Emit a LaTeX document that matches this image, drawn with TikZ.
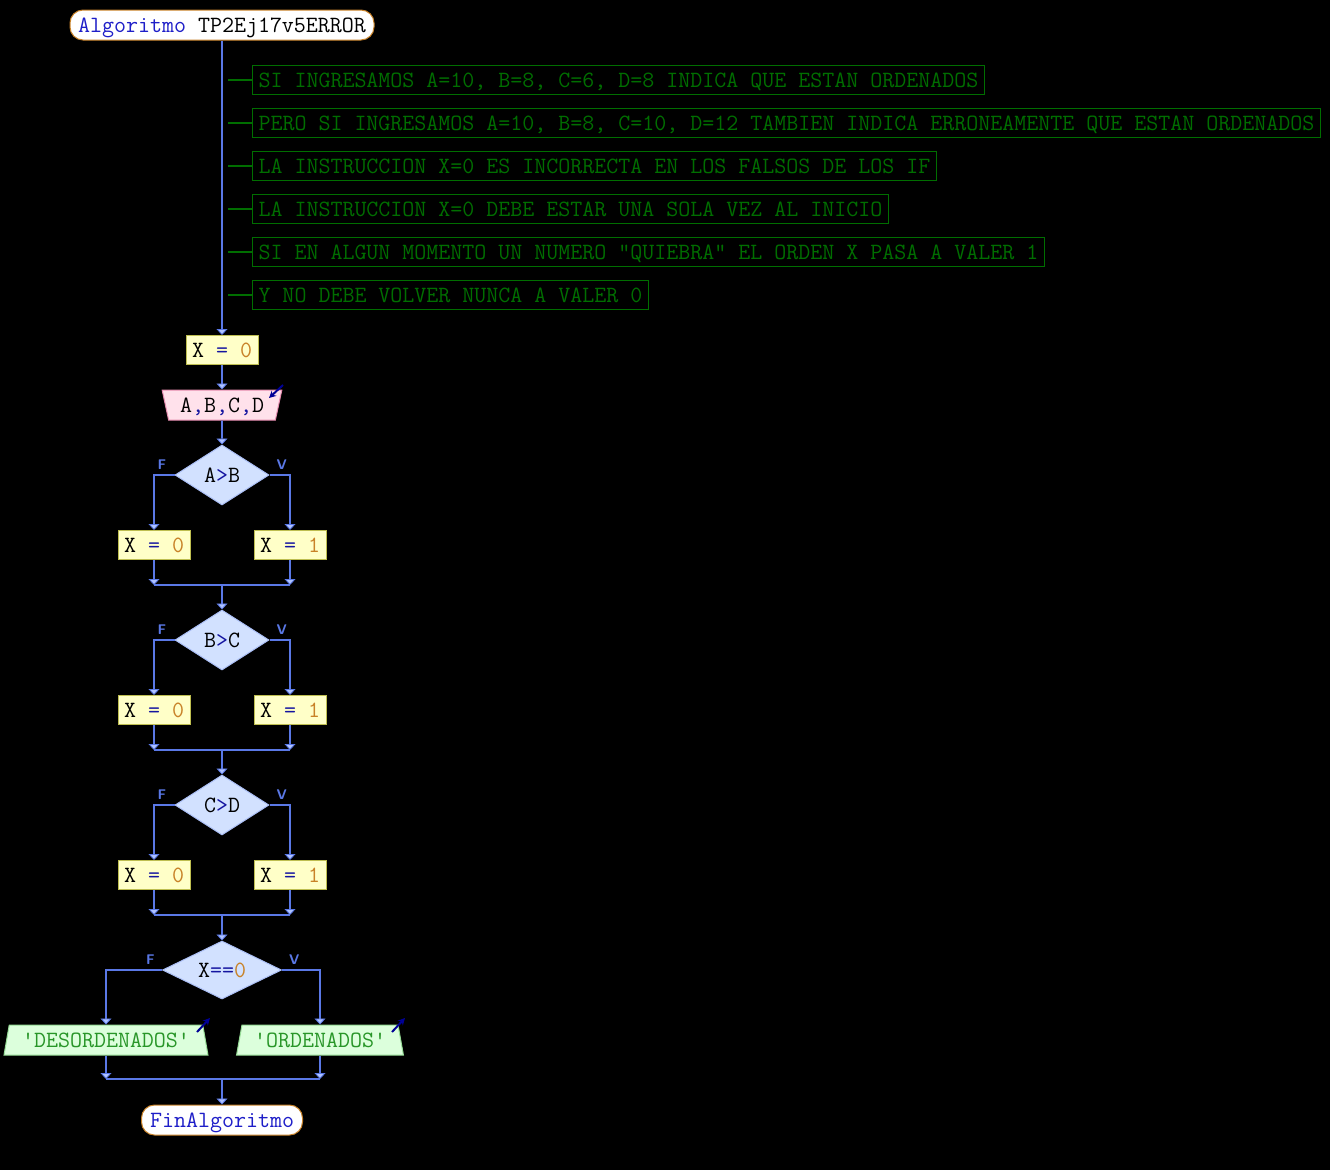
\documentclass[tikz,border=0pt]{standalone}
\usepackage{fontspec}
\usepackage{xcolor}
\usetikzlibrary{shapes.geometric, arrows.meta, positioning, calc}

\definecolor{flowblue}{RGB}{90,120,230}
\definecolor{arrowfill}{RGB}{175,195,255}
\definecolor{cmtgreen}{RGB}{0,110,0}
\definecolor{strgreen}{RGB}{40,150,40}
\definecolor{kwblue}{RGB}{30,30,200}
\definecolor{opblue}{RGB}{20,20,160}
\definecolor{numorange}{RGB}{200,130,40}
\definecolor{procfill}{RGB}{255,255,200}
\definecolor{procdraw}{RGB}{190,190,80}
\definecolor{readfill}{RGB}{255,225,235}
\definecolor{readdraw}{RGB}{230,140,175}
\definecolor{writefill}{RGB}{220,255,220}
\definecolor{writedraw}{RGB}{150,220,150}
\definecolor{decfill}{RGB}{210,225,255}
\definecolor{decdraw}{RGB}{170,190,245}
\definecolor{termdraw}{RGB}{200,130,40}
\definecolor{ioblue}{RGB}{0,0,150}

\newcommand{\pskw}[1]{\textcolor{kwblue}{#1}}
\newcommand{\psop}[1]{\textcolor{opblue}{#1}}
\newcommand{\psnum}[1]{\textcolor{numorange}{#1}}

\begin{document}
\begin{tikzpicture}[x=1pt, y=-1pt, font=\ttfamily\fontsize{23.3}{24}\selectfont,
  base/.style={inner sep=0pt, text height=14pt, text depth=0pt},
  term/.style={base, draw=termdraw, fill=white, rounded corners=13pt, minimum height=30pt, line width=1pt},
  proc/.style={base, draw=procdraw, fill=procfill, minimum width=72pt, minimum height=29pt, line width=1pt},
  readbox/.style={base, trapezium, trapezium stretches=true, shape border rotate=180, trapezium left angle=70, trapezium right angle=70, draw=readdraw, fill=readfill, minimum width=120pt, minimum height=30pt, line width=1pt},
  writebox/.style={base, trapezium, trapezium stretches=true, trapezium left angle=72, trapezium right angle=72, draw=writedraw, fill=writefill, text=strgreen, minimum height=30pt, line width=1pt},
  decision/.style={base, diamond, draw=decdraw, fill=decfill, minimum width=94pt, minimum height=60pt, aspect=1.57, line width=1pt},
  cmt/.style={base, draw=cmtgreen, text=cmtgreen, anchor=west, inner xsep=6pt, minimum height=29pt, line width=1pt},
  cmtline/.style={cmtgreen, line width=1.6pt},
  line/.style={flowblue, line width=1.8pt},
  flow/.style={line, -{Triangle[width=11pt, length=6pt, fill=arrowfill, line width=0.8pt]}},
  lbl/.style={inner sep=0pt, text=flowblue, text height=10pt, text depth=0pt, font=\sffamily\fontsize{14}{14}\selectfont\bfseries},
  ioarrow/.style={ioblue, line width=2pt, -{Stealth[length=7pt, width=7pt]}}
]
  % Background and page size
  \fill[black] (0,0) rectangle (1330,1170);
  \useasboundingbox (0,0) rectangle (1330,1170);

  % Start
  \node[term, minimum width=304pt] (inicio) at (222,25) {\pskw{Algoritmo} TP2Ej17v5ERROR};

  % Comments
  \coordinate (cbar) at (228,0);
  \node[cmt] (cmt1) at (252,80) {SI INGRESAMOS A=10, B=8, C=6, D=8 INDICA QUE ESTAN ORDENADOS};
  \node[cmt] (cmt2) at (252,123) {PERO SI INGRESAMOS A=10, B=8, C=10, D=12 TAMBIEN INDICA ERRONEAMENTE QUE ESTAN ORDENADOS};
  \node[cmt] (cmt3) at (252,166) {LA INSTRUCCION X=0 ES INCORRECTA EN LOS FALSOS DE LOS IF};
  \node[cmt] (cmt4) at (252,209) {LA INSTRUCCION X=0 DEBE ESTAR UNA SOLA VEZ AL INICIO};
  \node[cmt] (cmt5) at (252,252) {SI EN ALGUN MOMENTO UN NUMERO "QUIEBRA" EL ORDEN X PASA A VALER 1};
  \node[cmt] (cmt6) at (252,295) {Y NO DEBE VOLVER NUNCA A VALER 0};
  \foreach \i in {1,...,6}
    \draw[cmtline] (cmt\i.west) -- (cmt\i.west -| cbar);

  % Init and read
  \node[proc] (x0) at (222,350) {X \psop{=} \psnum{0}};
  \node[readbox] (leer) at (222,405) {A\psop{,}B\psop{,}C\psop{,}D};
  \draw[ioarrow] (283,385) -- (269,398);
  \draw[flow] (inicio) -- (x0);
  \draw[flow] (x0) -- (leer);

  % Comparisons
  \foreach \i/\y/\a/\b in {1/475/A/B, 2/640/B/C, 3/805/C/D} {
    \node[decision] (d\i) at (222,\y) {\a\psop{>}\b};
    \node[proc] (f\i) at (154,\y+70) {X \psop{=} \psnum{0}};
    \node[proc] (v\i) at (290,\y+70) {X \psop{=} \psnum{1}};
    \coordinate (m\i) at (222,\y+110);
    \node[lbl, above left=5pt and 8pt of d\i.west] (lf\i) {F};
    \node[lbl, above right=5pt and 7pt of d\i.east] (lv\i) {V};
    \draw[flow] (d\i.west) -| (f\i.north);
    \draw[flow] (d\i.east) -| (v\i.north);
    \draw[flow] (f\i.south) -- (f\i.south |- m\i);
    \draw[flow] (v\i.south) -- (v\i.south |- m\i);
    \draw[line] (f\i.south |- m\i) -- (v\i.south |- m\i);
  }
  \draw[flow] (leer) -- (d1);
  \draw[flow] (m1) -- (d2);
  \draw[flow] (m2) -- (d3);

  % Result
  \node[decision, minimum width=119pt, minimum height=58pt, aspect=2.05] (d4) at (222,970) {X\psop{==}\psnum{0}};
  \node[lbl, above left=5pt and 7pt of d4.west] (lf4) {F};
  \node[lbl, above right=5pt and 7pt of d4.east] (lv4) {V};
  \node[writebox, minimum width=204pt] (sal1) at (106,1040) {'DESORDENADOS'};
  \node[writebox, minimum width=167pt] (sal2) at (320,1040) {'ORDENADOS'};
  \draw[ioarrow] (197,1032) -- (210,1018);
  \draw[ioarrow] (392,1032) -- (405,1018);
  \coordinate (m4) at (222,1079);
  \draw[flow] (m3) -- (d4);
  \draw[flow] (d4.west) -| (sal1.north);
  \draw[flow] (d4.east) -| (sal2.north);
  \draw[flow] (sal1.south) -- (sal1.south |- m4);
  \draw[flow] (sal2.south) -- (sal2.south |- m4);
  \draw[line] (sal1.south |- m4) -- (sal2.south |- m4);

  % End
  \node[term, minimum width=161pt] (fin) at (222,1120) {\pskw{FinAlgoritmo}};
  \draw[flow] (m4) -- (fin);
\end{tikzpicture}
\end{document}
